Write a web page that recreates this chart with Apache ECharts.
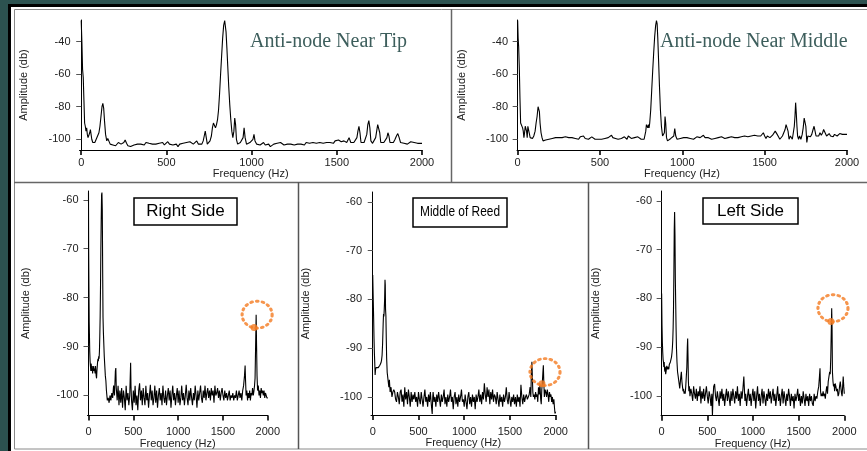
<!DOCTYPE html>
<html>
<head>
<meta charset="utf-8">
<script src="https://cdn.jsdelivr.net/npm/echarts@6/dist/echarts.min.js"></script>
<style>
  html, body { margin: 0; padding: 0; background: #2c5250; }
  #main { width: 867px; height: 451px; }
</style>
</head>
<body>
<div id="main"></div>
<script>
// tick values
var freqTicks = [0, 500, 1000, 1500, 2000];
var ampTicksTop = [-100, -80, -60, -40];
var ampTicksBottom = [-100, -90, -80, -70, -60];

// [frequency Hz, amplitude db]
var nearTip = [[0,-27],[4,-40],[8,-57],[12,-62],[16,-76],[20,-90],[24,-92],[28,-95],[32,-93],[36,-97],[40,-99],[45,-100],[50,-96],[54,-94],[58,-97],[62,-100],[68,-102],[74,-101],[80,-102],[88,-100],[96,-99],[104,-96],[110,-92],[116,-86],[122,-80],[127,-78],[132,-81],[137,-89],[143,-97],[150,-101],[156,-99.5],[162,-101],[170,-103],[178,-102],[186,-103.5],[194,-102.5],[202,-104],[210,-103],[218,-102],[226,-101.5],[234,-103],[242,-104],[250,-102],[258,-100.5],[266,-102.5],[274,-104],[282,-103],[290,-104.5],[300,-105],[310,-103.5],[320,-104],[330,-103],[340,-104],[350,-103],[360,-102.5],[370,-103.5],[380,-102],[390,-101],[398,-102.5],[408,-103.5],[418,-103],[428,-104],[438,-103],[448,-103.5],[458,-102.5],[468,-103.5],[478,-102],[488,-103.5],[498,-102.5],[508,-101.5],[518,-103],[528,-102.5],[538,-103.5],[548,-104],[558,-103],[568,-104.5],[578,-103],[588,-103.5],[598,-102.5],[608,-103],[618,-102],[628,-103],[638,-101.5],[648,-102.5],[658,-103],[668,-102],[678,-101],[688,-103],[698,-102],[708,-103],[716,-101],[722,-98],[728,-95],[734,-99],[740,-103],[748,-102],[756,-101],[764,-98],[770,-93],[776,-90],[782,-91],[788,-93],[794,-91],[800,-88],[806,-82],[812,-72],[818,-60],[824,-49],[830,-38],[836,-30],[842,-27],[846,-28],[850,-34],[855,-44],[860,-55],[866,-68],[872,-79],[878,-88],[884,-95],[890,-99],[896,-95],[901,-87],[906,-91],[911,-100],[918,-103],[926,-103],[934,-102],[942,-103],[950,-99],[956,-93],[962,-99],[970,-103],[980,-103],[990,-102],[1000,-102.5],[1008,-100],[1014,-97],[1020,-101],[1030,-103],[1040,-102.5],[1050,-103.5],[1060,-103],[1070,-102],[1080,-103.5],[1090,-104],[1100,-103],[1110,-104.5],[1120,-104],[1130,-103],[1140,-103.5],[1150,-102.5],[1160,-103],[1170,-102],[1180,-103],[1190,-103.5],[1200,-102.5],[1210,-103],[1220,-102],[1230,-103],[1240,-102.5],[1250,-103.5],[1260,-102.5],[1270,-103],[1280,-102],[1290,-103],[1300,-102.5],[1310,-103.5],[1320,-102],[1330,-103],[1340,-102.5],[1350,-103],[1360,-102],[1370,-101.5],[1380,-102.5],[1390,-101.5],[1400,-102],[1410,-101],[1420,-102.5],[1430,-101.5],[1440,-102],[1450,-101],[1460,-102],[1470,-101.5],[1480,-102.5],[1490,-101],[1500,-102],[1510,-100.5],[1518,-99.5],[1526,-101.5],[1534,-102],[1542,-101],[1550,-100.5],[1558,-102],[1566,-101],[1572,-99],[1577,-98],[1582,-102],[1590,-102.5],[1600,-102],[1610,-101],[1618,-99],[1624,-95],[1630,-92],[1636,-96],[1642,-102],[1650,-103],[1660,-102],[1668,-101],[1676,-97],[1682,-91],[1688,-88.5],[1694,-93],[1700,-101],[1710,-102.5],[1720,-102],[1728,-99],[1734,-95],[1740,-91],[1746,-90.5],[1752,-96],[1758,-102],[1766,-103],[1776,-102],[1786,-101],[1794,-99],[1800,-96],[1806,-98],[1812,-102],[1822,-103],[1832,-102],[1842,-100],[1850,-98],[1858,-96.5],[1866,-99],[1874,-102],[1884,-103],[1894,-102.5],[1904,-101.5],[1914,-103],[1924,-102],[1934,-101.5],[1944,-102.5],[1954,-102],[1964,-101.5],[1974,-102.5],[1984,-102],[1994,-102.5],[2000,-102.5]];

var nearMiddle = [[0,-27],[3,-38],[6,-43],[10,-56],[14,-75],[18,-90],[22,-91],[26,-90],[30,-93],[34,-95],[38,-99],[42,-96],[46,-92],[50,-91],[54,-95],[58,-99],[62,-92],[66,-91],[70,-96],[76,-99],[82,-100],[90,-99.5],[98,-98],[106,-95],[112,-90],[118,-86],[124,-80],[128,-79],[132,-83],[136,-90],[142,-96],[148,-99],[154,-101],[162,-100],[170,-100.5],[180,-101],[190,-100],[200,-100.5],[210,-99.5],[220,-100],[230,-99],[240,-100],[250,-99],[260,-98],[270,-99],[280,-99.5],[290,-98.5],[300,-99.5],[310,-99],[320,-100],[330,-99],[340,-98.5],[350,-99.5],[360,-99],[370,-100],[380,-98.5],[390,-99],[400,-98],[410,-99.5],[420,-99],[430,-100],[440,-99],[450,-98.5],[460,-99.5],[470,-100],[480,-99],[490,-100],[500,-99.5],[510,-100],[520,-100.5],[530,-99.5],[540,-100],[550,-99],[560,-99.5],[570,-97.5],[578,-99],[586,-98],[594,-99.5],[602,-98.5],[610,-100],[620,-99],[630,-99.5],[640,-100],[648,-98.5],[656,-99.5],[664,-100],[672,-98],[680,-99],[690,-99.5],[700,-100],[710,-99],[720,-99.5],[730,-98.5],[740,-99.5],[750,-100],[760,-99],[768,-100],[774,-99],[778,-95],[782,-91],[786,-90.5],[790,-93],[794,-91],[798,-93],[802,-90],[808,-82],[814,-70],[820,-58],[826,-47],[832,-37],[838,-30],[843,-27],[847,-29],[851,-38],[856,-52],[861,-67],[867,-82],[873,-92],[880,-98],[886,-99],[891,-96],[895,-86],[899,-90],[904,-99],[910,-101],[920,-100],[930,-99.5],[940,-100],[948,-98],[954,-93.5],[960,-98],[968,-100],[978,-99],[988,-99.5],[998,-98.5],[1008,-99],[1018,-100],[1028,-99],[1038,-98.5],[1048,-99.5],[1058,-99],[1068,-100],[1078,-99.5],[1088,-98.5],[1098,-99.5],[1108,-99],[1118,-98],[1128,-97.5],[1138,-99],[1148,-99.5],[1158,-99],[1168,-99.5],[1178,-100],[1188,-99],[1198,-99.5],[1208,-100],[1218,-99],[1228,-99.5],[1238,-98.5],[1248,-99],[1258,-99.5],[1268,-100],[1278,-99],[1288,-99.5],[1298,-98.5],[1308,-99.5],[1318,-99],[1328,-98],[1338,-99],[1348,-99.5],[1358,-98.5],[1368,-99],[1378,-98],[1388,-99],[1398,-98.5],[1408,-99],[1418,-98],[1428,-99],[1438,-97.5],[1448,-98.5],[1458,-98],[1468,-97],[1476,-98],[1484,-97.5],[1492,-96],[1500,-98],[1508,-99.5],[1516,-98],[1524,-97],[1532,-99],[1540,-98],[1548,-97.5],[1556,-96.5],[1564,-95],[1570,-94.5],[1576,-97],[1584,-98.5],[1592,-100],[1600,-99],[1608,-98],[1616,-97],[1624,-94],[1630,-91],[1636,-90],[1642,-95],[1648,-100],[1656,-98],[1662,-97],[1668,-100],[1674,-99],[1680,-92],[1684,-86],[1688,-77.5],[1692,-84],[1696,-92],[1700,-98],[1706,-100],[1712,-98],[1720,-100],[1728,-97],[1734,-93],[1740,-87],[1745,-86.5],[1750,-92],[1756,-102],[1762,-98],[1770,-97],[1778,-98.5],[1786,-97],[1794,-94],[1800,-92],[1806,-95],[1812,-98],[1820,-97],[1828,-98],[1836,-96],[1844,-97.5],[1852,-96],[1858,-94],[1864,-93],[1870,-95],[1876,-98],[1884,-97],[1892,-96.5],[1900,-98],[1908,-97],[1916,-98.5],[1924,-97],[1932,-96.5],[1940,-98],[1948,-97],[1956,-96.5],[1964,-97.5],[1972,-97],[1980,-96.5],[1990,-97],[2000,-97]];

var rightSide = [[0,-58.5],[2,-70],[5,-78],[8,-85],[11,-88],[14,-91],[18,-93],[22,-94],[26,-95],[30,-93.5],[34,-94.5],[38,-95],[42,-94],[46,-95.5],[50,-94.5],[54,-95],[58,-94],[62,-95],[66,-94.5],[70,-95],[74,-95.5],[78,-94],[82,-95],[86,-96],[90,-96.5],[94,-95],[98,-94],[102,-93],[106,-92.5],[110,-93],[114,-92],[118,-92.5],[122,-91],[126,-88],[130,-84],[134,-78],[138,-70],[142,-64],[146,-59],[150,-58.5],[154,-62],[158,-74],[162,-84],[166,-87],[170,-89],[176,-92],[182,-94],[188,-96],[194,-97],[200,-99],[210,-101],[220,-100.5],[230,-101.5],[240,-100],[250,-101],[260,-99.5],[270,-100.5],[280,-98],[290,-100],[300,-95],[305,-94.4],[310,-98.5],[320,-101],[330,-98],[340,-102],[350,-99],[360,-101.5],[370,-98.5],[380,-102.5],[390,-99],[400,-100.5],[410,-103],[420,-98],[430,-101],[440,-99.5],[450,-102],[460,-100],[466,-96],[470,-93.3],[474,-98],[480,-101],[490,-103],[500,-99],[510,-101.5],[520,-98],[530,-102],[540,-100],[550,-103],[560,-99],[570,-97.5],[580,-101],[590,-99],[600,-102],[610,-98.5],[620,-100.5],[630,-102],[640,-98],[650,-101],[660,-99.5],[670,-102.5],[680,-100],[690,-97.8],[700,-101],[710,-99],[720,-102],[730,-100.5],[740,-98],[750,-101.5],[760,-99],[770,-102.5],[780,-100],[790,-98.5],[800,-101],[810,-99.5],[820,-102],[830,-98],[840,-100.5],[850,-101.5],[860,-99],[870,-102],[880,-100],[890,-98.5],[900,-101],[910,-99],[920,-102.5],[930,-100],[940,-98],[950,-101],[960,-99.5],[970,-102],[980,-100],[990,-98.5],[1000,-101.5],[1010,-99],[1020,-102],[1030,-100.5],[1040,-98],[1050,-101],[1060,-99.5],[1070,-102],[1080,-100],[1090,-97.8],[1100,-100.5],[1110,-102],[1120,-99],[1130,-101],[1140,-98.5],[1150,-100.5],[1160,-102],[1170,-99.5],[1180,-101],[1190,-98],[1200,-100],[1210,-102.5],[1220,-99],[1230,-101],[1240,-99.5],[1250,-98],[1260,-100.5],[1270,-101.5],[1280,-99],[1290,-100.5],[1300,-98],[1310,-101],[1320,-99.5],[1330,-98.5],[1340,-100.5],[1350,-99],[1360,-101],[1370,-98.5],[1380,-100],[1390,-99],[1400,-101.5],[1410,-98],[1420,-100],[1430,-99.5],[1440,-98.5],[1450,-100.5],[1460,-99],[1470,-101],[1480,-99.5],[1490,-98.5],[1500,-100],[1510,-101],[1520,-99],[1530,-100.5],[1540,-99.5],[1550,-101],[1560,-100],[1570,-99],[1580,-101],[1590,-100],[1600,-100.5],[1610,-99.5],[1620,-101],[1630,-100],[1640,-100.5],[1650,-99],[1660,-101],[1670,-100],[1680,-99],[1690,-100.5],[1700,-99.5],[1710,-101],[1720,-99],[1730,-98],[1740,-96],[1747,-93.9],[1752,-97],[1758,-100],[1766,-99],[1774,-101],[1782,-99.5],[1790,-100.5],[1798,-99],[1806,-101],[1814,-99.5],[1822,-100],[1830,-98.5],[1838,-100],[1846,-99],[1852,-98],[1858,-96.5],[1864,-90],[1870,-83.5],[1875,-90],[1880,-96],[1886,-99],[1894,-98],[1902,-100],[1910,-99],[1918,-100.5],[1926,-98.5],[1934,-99.5],[1942,-99],[1950,-100],[1958,-99],[1966,-100.5],[1974,-99.5],[1982,-100],[1990,-100.5],[2000,-100.5]];

var middleOfReed = [[0,-75],[3,-75],[6,-80.5],[10,-84],[14,-88],[18,-91],[22,-93],[26,-95.5],[30,-94.5],[36,-94],[42,-94.2],[48,-94],[54,-93.8],[60,-94],[66,-94],[72,-93.8],[78,-93.5],[84,-93.5],[90,-93],[96,-92.5],[102,-91.5],[108,-89],[114,-85],[118,-83],[122,-83.5],[126,-82],[130,-80],[134,-76],[137,-77],[140,-82],[144,-83.4],[148,-88],[152,-92],[158,-95],[164,-96],[170,-97],[176,-98],[182,-96.5],[190,-99],[200,-98],[210,-100],[220,-99],[230,-98.5],[240,-99],[250,-100.5],[260,-101],[270,-99],[280,-100],[290,-101.5],[300,-99],[310,-98.5],[320,-101],[330,-99.5],[340,-102],[350,-98],[360,-100.5],[370,-99],[380,-101.5],[390,-98.5],[400,-100],[410,-102],[420,-99],[430,-101],[440,-99.5],[450,-100.5],[460,-99],[470,-101],[480,-100],[490,-102],[500,-99],[510,-100.5],[520,-101.5],[530,-99],[540,-100.5],[550,-102],[560,-100],[570,-98.5],[580,-101],[590,-100],[600,-102],[610,-99.5],[620,-101],[630,-99],[640,-101.5],[650,-103.5],[656,-100],[660,-99],[670,-101],[680,-100],[690,-102],[700,-99.5],[710,-101],[720,-99],[730,-100.5],[740,-102],[750,-99.5],[760,-101],[770,-100],[780,-98.5],[790,-101.5],[800,-100],[810,-102],[820,-99.5],[830,-101],[840,-100],[850,-98.5],[860,-101],[870,-100],[880,-102.5],[890,-100],[900,-99],[910,-101.5],[920,-100],[930,-102],[940,-99.5],[950,-101],[960,-100],[970,-98.5],[980,-101],[990,-100.5],[1000,-102],[1010,-99.5],[1020,-101],[1030,-102.5],[1040,-100],[1050,-99],[1060,-101.5],[1070,-100],[1080,-102],[1090,-99.5],[1100,-101],[1110,-100],[1120,-102.5],[1130,-99.5],[1140,-101],[1150,-100],[1160,-98.5],[1170,-101],[1180,-99.5],[1190,-101.5],[1200,-99],[1210,-100.5],[1220,-97.2],[1230,-99.5],[1240,-101],[1250,-98],[1260,-100],[1270,-98.5],[1280,-101.5],[1290,-99],[1300,-100.5],[1310,-98.5],[1320,-101],[1330,-99.5],[1340,-100],[1350,-101.5],[1360,-99],[1370,-100.5],[1380,-102],[1390,-99.5],[1400,-101],[1410,-100],[1420,-102],[1430,-99.5],[1440,-101],[1450,-100],[1460,-98],[1470,-100.5],[1480,-101.5],[1490,-99],[1500,-100.5],[1510,-102],[1520,-100],[1530,-101],[1540,-99.5],[1550,-101.5],[1560,-100],[1570,-102],[1580,-99.5],[1590,-101],[1600,-100],[1610,-102],[1620,-97.5],[1630,-100],[1640,-101.5],[1650,-99.5],[1660,-101],[1670,-100],[1680,-99.5],[1690,-100.5],[1700,-100],[1710,-99.5],[1720,-98],[1728,-100],[1734,-95],[1740,-92.8],[1745,-96],[1750,-99],[1756,-100],[1764,-99.5],[1772,-100.5],[1780,-99],[1788,-100],[1796,-99.5],[1804,-101],[1812,-98],[1820,-99.5],[1828,-97.5],[1836,-100.5],[1842,-101.5],[1848,-98.5],[1854,-97],[1860,-95],[1865,-93.5],[1870,-97],[1876,-100],[1884,-98.5],[1892,-99],[1900,-100],[1908,-98.5],[1916,-99.5],[1924,-101],[1932,-99],[1940,-100],[1948,-99.5],[1956,-101],[1964,-100],[1972,-101.5],[1980,-100.5],[1986,-102],[1992,-103.4],[2000,-103]];

var leftSide = [[0,-79],[4,-85.5],[8,-89],[12,-91],[16,-92.5],[20,-93],[24,-94],[28,-93],[32,-94.5],[36,-95],[40,-94],[44,-95.5],[48,-95.8],[52,-94.5],[56,-93.8],[60,-94],[66,-94.5],[72,-94],[78,-94.5],[84,-93.5],[90,-93.5],[96,-93],[102,-93],[108,-92],[114,-91],[118,-90],[122,-88.5],[126,-86],[130,-82],[134,-75],[138,-66],[142,-62.3],[146,-67],[150,-76],[154,-81],[158,-86],[162,-90],[168,-93],[174,-95],[180,-95.8],[186,-96],[192,-97.5],[198,-98.4],[204,-98],[210,-96],[216,-95],[222,-97],[228,-98],[234,-99],[240,-98.5],[246,-99.5],[252,-99],[258,-99.5],[264,-98],[270,-96],[276,-94],[281,-90],[285,-88.2],[289,-92],[293,-97],[298,-99],[304,-98],[310,-100],[320,-98.5],[330,-99.5],[340,-101],[350,-98],[360,-99.5],[370,-100.5],[380,-98.5],[390,-101],[400,-99],[410,-100],[420,-98],[430,-101.5],[440,-99],[450,-100.5],[460,-98.5],[470,-101],[480,-99.5],[490,-98],[500,-100],[510,-101.5],[520,-99],[530,-100],[540,-102],[550,-99.5],[556,-104],[562,-100.5],[570,-98],[580,-97.5],[590,-100],[600,-101],[610,-99],[620,-100.5],[630,-102],[640,-99],[650,-100.5],[660,-98.5],[670,-101],[680,-99.5],[690,-102],[700,-100],[710,-98.5],[720,-101],[730,-99],[740,-100.5],[750,-102],[760,-99],[770,-101],[780,-98.5],[790,-100],[800,-101.5],[810,-99],[820,-100.5],[830,-98],[840,-101],[850,-99.5],[860,-102],[870,-99],[880,-100.5],[890,-98.5],[900,-96],[906,-98.5],[912,-101],[920,-99.5],[930,-102],[940,-100],[950,-98.5],[960,-101],[970,-99.5],[980,-102],[990,-100],[1000,-98.5],[1010,-101],[1020,-99],[1030,-102.5],[1040,-100],[1050,-98],[1060,-101],[1070,-99.5],[1080,-102],[1090,-100],[1100,-98.5],[1110,-101.5],[1120,-99],[1130,-100.5],[1140,-102],[1150,-99.5],[1160,-101],[1170,-98.5],[1180,-100.5],[1190,-99],[1200,-101.5],[1210,-100],[1220,-98.5],[1230,-101],[1240,-99.5],[1250,-102],[1260,-100],[1270,-98],[1280,-101],[1290,-99.5],[1300,-102],[1310,-100],[1320,-98.5],[1330,-101.5],[1340,-99],[1350,-100.5],[1360,-102],[1370,-99.5],[1380,-101],[1390,-98.5],[1400,-100],[1410,-102],[1420,-99.5],[1430,-101],[1440,-100],[1450,-102.5],[1460,-99.5],[1470,-101],[1480,-100],[1490,-98.5],[1500,-101],[1510,-99.5],[1520,-102],[1530,-100],[1540,-101.5],[1550,-99],[1560,-100.5],[1570,-102],[1580,-99.5],[1590,-101],[1600,-100],[1610,-102],[1620,-99.5],[1630,-101],[1640,-100],[1650,-101.5],[1660,-102],[1670,-99.5],[1680,-101],[1690,-100],[1700,-100.5],[1710,-99],[1720,-98],[1728,-96],[1734,-94.3],[1740,-99],[1746,-100],[1752,-99.5],[1760,-100],[1768,-99],[1776,-100],[1784,-99.5],[1792,-100.5],[1800,-99],[1808,-98],[1816,-99.5],[1824,-97],[1832,-96],[1840,-95],[1846,-95.5],[1852,-92],[1857,-87],[1862,-82],[1866,-86],[1870,-95],[1876,-97],[1882,-98],[1888,-97.5],[1894,-99],[1900,-97.4],[1908,-98],[1916,-99],[1924,-98.5],[1932,-100],[1940,-99.5],[1948,-98],[1956,-97],[1964,-98.5],[1970,-99.5],[1976,-100],[1982,-98],[1988,-96],[1994,-98],[2000,-99.5]];

// orange markers around the ~1870 Hz peak: [freq, db]
var rightSideRing = [1881, -83.5], rightSideDot = [1847, -86.1];
var middleRing = [1883, -94.9], middleDot = [1850, -97.3];
var leftSideRing = [1876, -82], leftSideDot = [1854, -84.7];

var myChart = echarts.init(document.getElementById('main'));

var panels = [
	{ data: nearTip, left: 79.5, top: 20, width: 342.5, height: 130, xMin: -10, yMin: -106.6, yMax: -26.7, yTicks: ampTicksTop, nameGapY: 50, labelGapX: 7, nameGapX: 18 },
	{ data: nearMiddle, left: 517, top: 20, width: 330, height: 130, xMin: -4, yMin: -106.6, yMax: -26.7, yTicks: ampTicksTop, nameGapY: 50, labelGapX: 7, nameGapX: 18 },
	{ data: rightSide, left: 87.5, top: 191, width: 180.3, height: 224.5, xMin: -11, yMin: -104.1, yMax: -58.2, yTicks: ampTicksBottom, nameGapY: 56, labelGapX: 11, nameGapX: 22, ring: rightSideRing, dot: rightSideDot },
	{ data: middleOfReed, left: 371, top: 192, width: 184.7, height: 223, xMin: -19, yMin: -103.7, yMax: -58, yTicks: ampTicksBottom, nameGapY: 60, labelGapX: 11, nameGapX: 22, ring: middleRing, dot: middleDot },
	{ data: leftSide, left: 661, top: 191, width: 183.3, height: 224.7, xMin: -7, yMin: -104, yMax: -58, yTicks: ampTicksBottom, nameGapY: 60, labelGapX: 11, nameGapX: 22, ring: leftSideRing, dot: leftSideDot }
];

var font = '"Liberation Sans", Arial, sans-serif';
var grids = [], xAxes = [], yAxes = [], series = [];

function plain(v) { return String(v); }

panels.forEach(function (p, i) {
	grids.push({ left: p.left, top: p.top, width: p.width, height: p.height });
	xAxes.push({
		type: 'value', gridIndex: i, min: p.xMin, max: 2000,
		name: 'Frequency (Hz)', nameLocation: 'middle', nameGap: p.nameGapX,
		nameTextStyle: { fontSize: 11, color: '#222', fontFamily: font },
		axisLine: { lineStyle: { color: '#000', width: 1 } },
		axisTick: { length: 5, lineStyle: { color: '#000', width: 1.6 }, customValues: freqTicks },
		axisLabel: { margin: p.labelGapX, fontSize: 11, color: '#222', fontFamily: font, customValues: freqTicks, formatter: plain },
		splitLine: { show: false }
	});
	yAxes.push({
		type: 'value', gridIndex: i, min: p.yMin, max: p.yMax,
		name: 'Amplitude (db)', nameLocation: 'middle', nameGap: p.nameGapY,
		nameTextStyle: { fontSize: 11, color: '#222', fontFamily: font },
		axisLine: { show: true, lineStyle: { color: '#000', width: 1 } },
		axisTick: { show: true, length: 5, lineStyle: { color: '#555', width: 1 }, customValues: p.yTicks },
		axisLabel: { margin: 9, fontSize: 11, color: '#222', fontFamily: font, customValues: p.yTicks, formatter: plain },
		splitLine: { show: false }
	});
	series.push({
		type: 'line', xAxisIndex: i, yAxisIndex: i, data: p.data,
		showSymbol: false, symbol: 'none', animation: false,
		lineStyle: { color: '#000', width: 1.1 }
	});
	if (p.ring) {
		series.push({
			type: 'scatter', xAxisIndex: i, yAxisIndex: i, data: [p.ring], z: 4,
			symbol: 'circle', symbolSize: [30, 27], animation: false,
			itemStyle: { color: 'rgba(0,0,0,0)', borderColor: '#f47a20', borderWidth: 3, borderType: [1.5, 4], borderCap: 'round' }
		});
		series.push({
			type: 'scatter', xAxisIndex: i, yAxisIndex: i, data: [p.dot], z: 4,
			symbol: 'circle', symbolSize: 7, animation: false,
			itemStyle: { color: '#f47a20' }
		});
	}
});

function boxLabel(x, y, w, h, txt, f, sx) {
	return [
		{ type: 'rect', shape: { x: x, y: y, width: w, height: h }, style: { fill: '#fff', stroke: '#000', lineWidth: 1.5 }, z: 5 },
		{ type: 'text', x: x + w / 2, y: y + h / 2, scaleX: sx || 1, style: { text: txt, font: f, fill: '#000', align: 'center', verticalAlign: 'middle' }, z: 6 }
	];
}

var graphics = [
	{ type: 'rect', shape: { x: 8, y: 4, width: 870, height: 460 }, style: { fill: '#000' }, z: -10 },
	{ type: 'rect', shape: { x: 11, y: 7, width: 870, height: 460 }, style: { fill: '#fff' }, z: -9 },
	{ type: 'rect', shape: { x: 14.5, y: 9.5, width: 870, height: 439.5 }, style: { fill: 'none', stroke: '#8a8a8a', lineWidth: 1 }, z: -8 },
	{ type: 'line', shape: { x1: 14, y1: 182.5, x2: 867, y2: 182.5 }, style: { stroke: '#666', lineWidth: 1.5 }, z: -8 },
	{ type: 'line', shape: { x1: 451.5, y1: 9, x2: 451.5, y2: 182 }, style: { stroke: '#666', lineWidth: 1.5 }, z: -8 },
	{ type: 'line', shape: { x1: 298.5, y1: 182, x2: 298.5, y2: 449 }, style: { stroke: '#555', lineWidth: 1.5 }, z: -8 },
	{ type: 'line', shape: { x1: 588.5, y1: 182, x2: 588.5, y2: 449 }, style: { stroke: '#555', lineWidth: 1.5 }, z: -8 },
	{ type: 'text', x: 250, y: 42, style: { text: 'Anti-node Near Tip', font: '20px "Liberation Serif", "Times New Roman", serif', fill: '#3d5e5c', verticalAlign: 'middle' }, z: 6 },
	{ type: 'text', x: 660, y: 42, style: { text: 'Anti-node Near Middle', font: '20px "Liberation Serif", "Times New Roman", serif', fill: '#3d5e5c', verticalAlign: 'middle' }, z: 6 }
].concat(
	boxLabel(134, 198, 103, 27, 'Right Side', '17px ' + font),
	boxLabel(413, 198, 94, 29, 'Middle of Reed', '14px ' + font, 0.85),
	boxLabel(703, 198, 95, 26, 'Left Side', '17px ' + font)
);

option = {
	backgroundColor: '#2c5250',
	animation: false,
	grid: grids,
	xAxis: xAxes,
	yAxis: yAxes,
	series: series,
	graphic: graphics
};
myChart.setOption(option);
</script>
</body>
</html>
